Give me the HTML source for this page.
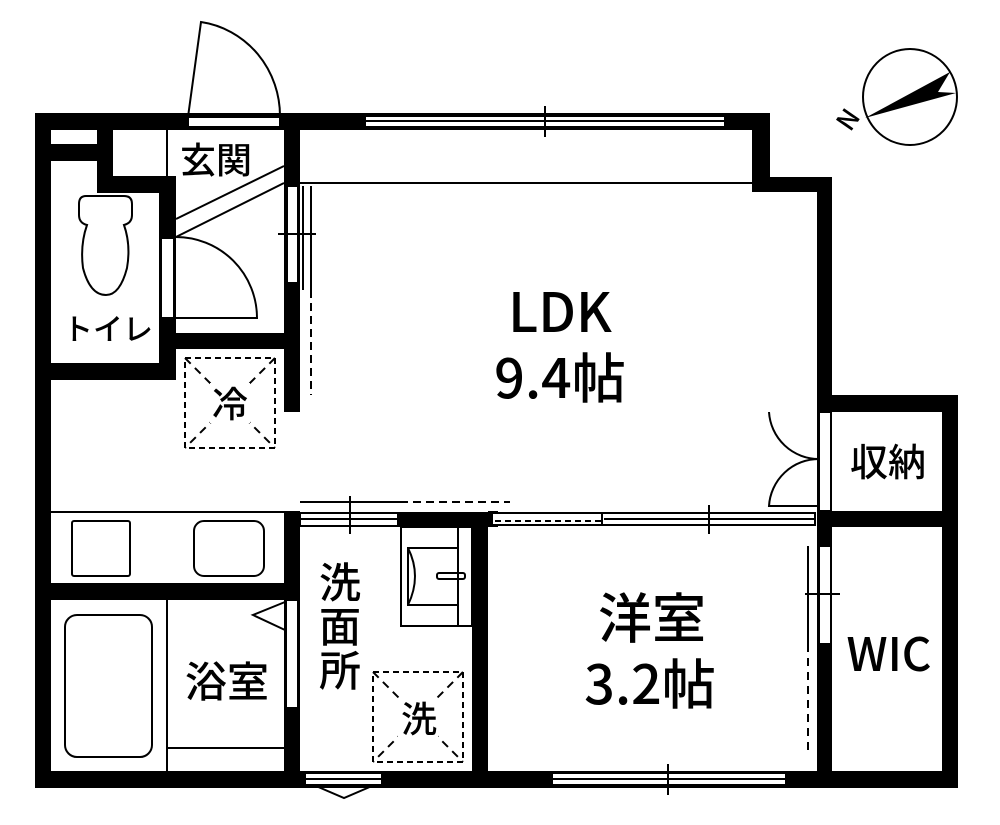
<!DOCTYPE html>
<html><head><meta charset="utf-8"><style>
html,body{margin:0;padding:0;background:#fff}
svg text{font-family:"Noto Sans CJK JP","Liberation Sans",sans-serif;fill:#000;font-weight:500}
</style></head><body>
<svg width="1000" height="820" viewBox="0 0 1000 820" xmlns="http://www.w3.org/2000/svg">
<g fill="#000">
<rect x="35" y="113" width="735" height="17"/>
<rect x="35" y="113" width="16" height="675"/>
<rect x="752" y="113" width="18" height="79"/>
<rect x="752" y="177" width="80" height="15"/>
<rect x="817" y="177" width="15" height="610"/>
<rect x="817" y="395" width="141" height="17"/>
<rect x="942" y="395" width="16" height="393"/>
<rect x="817" y="511" width="141" height="16"/>
<rect x="35" y="771" width="923" height="17"/>
<rect x="51" y="144" width="46" height="17"/>
<rect x="97" y="130" width="16" height="63"/>
<rect x="97" y="176" width="79" height="17"/>
<rect x="159" y="176" width="17" height="204"/>
<rect x="51" y="363" width="125" height="17"/>
<rect x="176" y="333" width="124" height="16"/>
<rect x="284" y="113" width="16" height="299"/>
<rect x="51" y="583" width="249" height="17"/>
<rect x="284" y="512" width="16" height="276"/>
<rect x="398" y="512" width="90" height="15"/>
<rect x="472" y="512" width="16" height="276"/>
<rect x="488" y="511" width="10" height="16"/>
</g>
<g fill="#fff" stroke="#000" stroke-width="2">
<rect x="188" y="117" width="92" height="10"/>
<rect x="365" y="116" width="360" height="11"/>
<rect x="161" y="238" width="13" height="80"/>
<rect x="287" y="186" width="11" height="97"/>
<rect x="819" y="412" width="12" height="99"/>
<rect x="492" y="513" width="323" height="12"/>
<rect x="819" y="546" width="12" height="98"/>
<rect x="286" y="600" width="12" height="108"/>
<rect x="300" y="513" width="98" height="13"/>
<rect x="552" y="773" width="234" height="12"/>
<rect x="305" y="773" width="77" height="12"/>
</g>
<g fill="none" stroke="#000" stroke-width="2">
<line x1="365" y1="121" x2="725" y2="121"/>
<line x1="545" y1="106" x2="545" y2="137"/>
<path d="M188 117 L201 22 A92 95 0 0 1 280 117"/>
<line x1="167" y1="130" x2="167" y2="176"/>
<line x1="176" y1="219" x2="284" y2="166"/>
<line x1="176" y1="237" x2="284" y2="183"/>
<path d="M176 237 A81 81 0 0 1 257 318 L176 318"/>
<path d="M86 196 H124 Q132 196 132 204 V215 Q132 223 124 225 Q131 245 127 268 Q120 295 106 295 Q90 295 83 268 Q80 245 87 225 Q79 223 79 215 V204 Q79 196 86 196Z"/>
<line x1="300" y1="183" x2="752" y2="183"/>
<line x1="303" y1="186" x2="303" y2="290"/>
<line x1="311" y1="186" x2="311" y2="290"/>
<line x1="278" y1="234" x2="316" y2="234"/>
<line x1="311" y1="290" x2="311" y2="395" stroke-dasharray="8,5"/>
<rect x="185" y="358" width="90" height="90" stroke-dasharray="6,4"/>
<line x1="185" y1="358" x2="275" y2="448" stroke-dasharray="8,6"/>
<line x1="275" y1="358" x2="185" y2="448" stroke-dasharray="8,6"/>
<line x1="51" y1="512" x2="300" y2="512"/>
<rect x="72" y="521" width="58" height="55" rx="2"/>
<rect x="194" y="521" width="70" height="55" rx="10"/>
<path d="M769 412 A50 50 0 0 0 819 459 A50 50 0 0 0 769 506 L819 506"/>
<line x1="300" y1="502" x2="400" y2="502"/>
<line x1="400" y1="502" x2="510" y2="502" stroke-dasharray="8,5"/>
<line x1="350" y1="496" x2="350" y2="534"/>
<line x1="300" y1="519" x2="398" y2="519"/>
<line x1="495" y1="521" x2="602" y2="521" stroke-dasharray="6,4"/>
<line x1="602" y1="513" x2="602" y2="525"/>
<line x1="604" y1="519" x2="815" y2="519"/>
<line x1="709" y1="505" x2="709" y2="534"/>
<line x1="808" y1="546" x2="808" y2="644"/>
<line x1="805" y1="594" x2="840" y2="594"/>
<line x1="808" y1="644" x2="808" y2="755" stroke-dasharray="8,6"/>
<line x1="552" y1="779" x2="786" y2="779"/>
<line x1="668" y1="764" x2="668" y2="795"/>
<rect x="65" y="615" width="87" height="142" rx="12"/>
<line x1="167" y1="600" x2="167" y2="771"/>
<line x1="167" y1="748" x2="284" y2="748"/>
<path d="M285 602 L253 615 L285 630"/>
<rect x="401" y="527" width="71" height="99"/>
<line x1="458" y1="527" x2="458" y2="626"/>
<rect x="408" y="548" width="50" height="57"/>
<path d="M408 548 Q422 576 408 605"/>
<rect x="437" y="573" width="28" height="6" rx="2"/>
<rect x="373" y="672" width="90" height="90" stroke-dasharray="6,4"/>
<line x1="373" y1="672" x2="463" y2="762" stroke-dasharray="8,6"/>
<line x1="463" y1="672" x2="373" y2="762" stroke-dasharray="8,6"/>
<line x1="305" y1="779" x2="382" y2="779"/>
<path d="M316 786 L344 798 L372 786"/>
<ellipse cx="910" cy="97" rx="47" ry="48"/>
</g>
<polygon points="865,118 950,72 938,92 956,93" fill="#000"/>
<text x="842" y="137" font-size="26" font-weight="bold" font-family="Liberation Sans" transform="rotate(-55 842 127)">N</text>
<rect x="210" y="383" width="40" height="40" fill="#fff"/>
<rect x="398" y="698" width="40" height="40" fill="#fff"/>
<g>
<text x="216" y="173" font-size="36" text-anchor="middle">玄関</text>
<text x="108" y="340" font-size="30" text-anchor="middle">トイレ</text>
<text x="230" y="417" font-size="36" text-anchor="middle">冷</text>
<text x="560" y="332" font-size="54" text-anchor="middle">LDK</text>
<text x="560" y="398" font-size="54" text-anchor="middle">9.4帖</text>
<text x="888" y="476" font-size="38" text-anchor="middle">収納</text>
<text x="889" y="671" font-size="46" text-anchor="middle">WIC</text>
<text x="652" y="638" font-size="54" text-anchor="middle">洋室</text>
<text x="650" y="704" font-size="54" text-anchor="middle">3.2帖</text>
<text x="227" y="697" font-size="42" text-anchor="middle">浴室</text>
<text x="340" y="598" font-size="42" text-anchor="middle">洗</text>
<text x="340" y="642" font-size="42" text-anchor="middle">面</text>
<text x="340" y="686" font-size="42" text-anchor="middle">所</text>
<text x="419" y="732" font-size="36" text-anchor="middle">洗</text>
</g>
</svg>
</body></html>
